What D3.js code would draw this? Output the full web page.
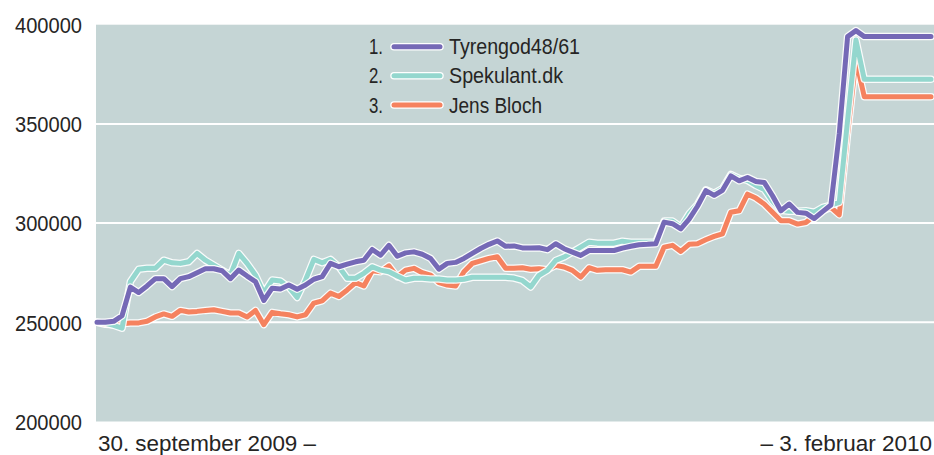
<!DOCTYPE html>
<html><head><meta charset="utf-8">
<script src="https://cdn.jsdelivr.net/npm/d3@7"></script>
<style>html,body{margin:0;padding:0;background:#fff;}svg{display:block;}</style>
</head><body>
<svg id="c" width="934" height="455"></svg>
<script>
// ---- data ----
const seriesNames = ["Tyrengod48/61", "Spekulant.dk", "Jens Bloch"];
const seriesRanks = ["1.", "2.", "3."];
const yTicks = [200000, 250000, 300000, 350000, 400000];
const startLabel = "30. september 2009 –";
const endLabel = "– 3. februar 2010";

const tyrengod = [
 250000,250000,250500,253300,267700,265000,268300,272000,272000,268000,
 272000,273000,275000,277000,277000,276000,272000,276300,273300,270500,
 261000,267200,266800,268800,266700,268800,271700,273000,279700,278000,
 279300,280500,281300,286700,283800,288800,283300,285000,285500,284300,
 282200,276800,279700,280200,282200,284700,287200,289300,291000,288300,
 288500,287500,287400,287600,286600,289600,287100,285400,283700,286200,
 286200,286200,286200,287400,288300,289100,289300,289600,300500,299700,
 297100,302000,308500,316400,314000,316500,323800,321300,323000,321000,
 320500,313800,306200,309600,305400,305000,302300,305800,309100,345000,
 394000,397000,394000,394000,394000,394000,394000,394000,394000,394000,394000];

const spekulant = [
 250000,249500,248500,247000,270500,276700,277200,277200,281300,280000,
 279700,280500,284700,281300,278800,276300,273800,284700,279700,273800,
 264700,271300,270800,267700,262500,271300,281700,280000,281700,278000,
 272200,272200,274700,278000,276300,275500,273300,271300,272200,272200,
 271800,271800,271300,271300,271700,272700,272700,272700,272700,272700,
 272300,271100,267800,273700,276200,281200,282900,285400,287900,290400,
 289900,289900,289900,290900,290400,290400,290400,290400,301000,301000,
 298000,304700,309400,316800,315000,317500,324500,322500,321500,319000,
 317000,311000,306500,306000,306000,306200,305500,307900,309000,310400,
 352000,392300,372500,372500,372500,372500,372500,372500,372500,372500,372500];

const jensBloch = [
 250000,249000,248800,249300,249700,249700,250500,252700,254200,253000,
 256000,255200,255500,256000,256300,255500,254700,254700,252700,256000,
 248800,255000,254300,253800,252700,253800,259700,260800,264700,263000,
 266300,270000,268300,276000,275500,278500,273000,276300,277200,275000,
 273800,270000,268800,268300,275500,279700,281000,282200,283000,277200,
 277200,277500,276700,277000,276500,278700,277900,276200,272800,277500,
 276200,276500,276500,276500,275300,278200,278200,278200,287900,288800,
 285700,289300,289600,291600,293300,294600,305500,306200,314600,312600,
 309600,305400,301200,301200,299500,300300,303700,306200,307900,304200,
 345000,382300,363700,363700,363700,363700,363700,363700,363700,363700,363700];

const seriesValues = [tyrengod, spekulant, jensBloch];
const seriesColors = ["#7569b6", "#94d7ce", "#f5825f"];
const legendTextWidths = [131, 114, 93];

// ---- chart ----
const plot = {left: 96, right: 934, top: 24.7, bottom: 421.5};
const svg = d3.select("#c");
const font = "'Liberation Sans', Arial, sans-serif";
const textColor = "#262524";

const x = d3.scaleLinear().domain([0, tyrengod.length - 1]).range([97, 931]);
const y = d3.scaleLinear().domain([200000, 400000]).range([plot.bottom, plot.top]);

svg.append("rect").attr("x", plot.left).attr("y", plot.top)
  .attr("width", plot.right - plot.left).attr("height", plot.bottom - plot.top)
  .attr("fill", "#c5d5d5");

// gridlines
svg.append("g").selectAll("line").data(yTicks.filter(d => d > 200000 && d < 400000)).join("line")
  .attr("x1", plot.left).attr("x2", plot.right)
  .attr("y1", d => y(d)).attr("y2", d => y(d))
  .attr("stroke", "#fff").attr("stroke-width", 2);

// y axis labels via d3 axis
const yAxis = d3.axisLeft(y).tickValues(yTicks).tickSize(0).tickPadding(0).tickFormat(d3.format("d"));
const gy = svg.append("g").attr("transform", "translate(82,0)").call(yAxis);
gy.select(".domain").remove();
gy.selectAll("text").attr("font-family", font).attr("font-size", 21.5)
  .attr("fill", textColor).attr("dy", "0.36em")
  .attr("textLength", 67).attr("lengthAdjust", "spacingAndGlyphs");

// lines
const line = d3.line().x((d, i) => x(i)).y(d => y(d)).curve(d3.curveLinear);
const order = [2, 1, 0];
order.forEach(k => {
  const g = svg.append("g");
  g.append("path").attr("d", line(seriesValues[k])).attr("fill", "none")
    .attr("stroke", "#fff").attr("stroke-width", 7.5).attr("stroke-linejoin", "round").attr("stroke-linecap", "round").attr("opacity", 0.9);
  g.append("path").attr("d", line(seriesValues[k])).attr("fill", "none")
    .attr("stroke", seriesColors[k]).attr("stroke-width", 5).attr("stroke-linejoin", "round").attr("stroke-linecap", "round");
});

// legend
const legendY = [46.7, 75.7, 105];
const lg = svg.append("g");
seriesNames.forEach((name, i) => {
  lg.append("text").attr("x", 369).attr("y", legendY[i]).attr("dy", "0.36em")
    .attr("font-family", font).attr("font-size", 21.5).attr("fill", textColor)
    .attr("textLength", 14).attr("lengthAdjust", "spacingAndGlyphs").text(seriesRanks[i]);
  lg.append("line").attr("x1", 394).attr("x2", 440).attr("y1", legendY[i]).attr("y2", legendY[i])
    .attr("stroke", "#fff").attr("stroke-width", 7.5).attr("stroke-linecap", "round");
  lg.append("line").attr("x1", 394).attr("x2", 440).attr("y1", legendY[i]).attr("y2", legendY[i])
    .attr("stroke", seriesColors[i]).attr("stroke-width", 5).attr("stroke-linecap", "round");
  lg.append("text").attr("x", 449).attr("y", legendY[i]).attr("dy", "0.36em")
    .attr("font-family", font).attr("font-size", 21.5).attr("fill", textColor)
    .attr("textLength", legendTextWidths[i]).attr("lengthAdjust", "spacingAndGlyphs").text(name);
});

// bottom labels
svg.append("text").attr("x", 98).attr("y", 451).attr("font-family", font).attr("font-size", 22.5)
  .attr("fill", textColor).attr("textLength", 218).attr("lengthAdjust", "spacingAndGlyphs").text(startLabel);
svg.append("text").attr("x", 932).attr("y", 451).attr("text-anchor", "end").attr("font-family", font).attr("font-size", 22.5)
  .attr("fill", textColor).text(endLabel);
</script>
</body></html>
